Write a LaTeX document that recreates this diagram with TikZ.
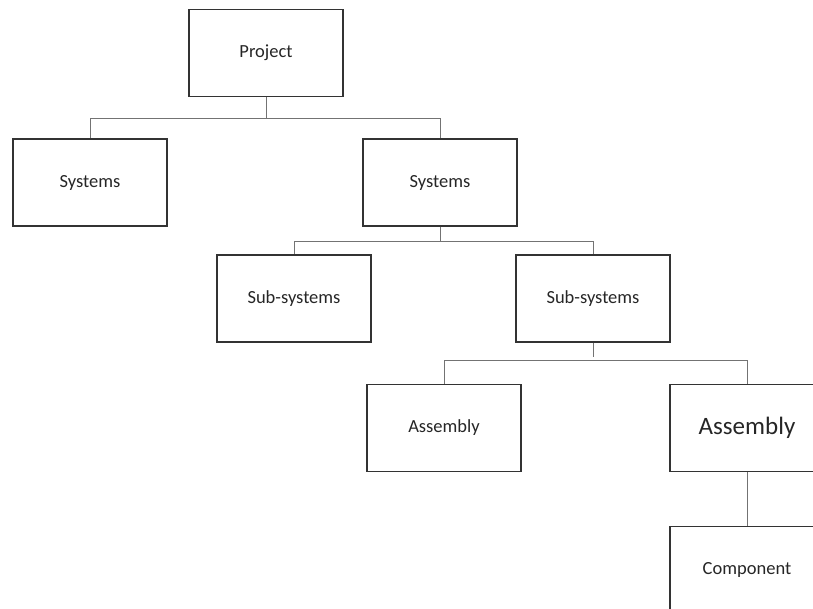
\documentclass[tikz,border=0pt]{standalone}
\usepackage{fontspec}
\setmainfont{Carlito}
\begin{document}
\begin{tikzpicture}[x=1pt,y=-1pt,
  box/.style={draw=black!80, line width=1.3pt, minimum width=154pt, minimum height=87pt, inner sep=0pt, font=\fontsize{18.5}{22}\selectfont, text=black!85},
  conn/.style={draw=black!55, line width=0.9pt}]
\useasboundingbox (0,0) rectangle (813,608);
\clip (0,0) rectangle (813,608);
\node[box] (project) at (266,53) {Project};
\node[box] (sysL) at (90,182.5) {Systems};
\node[box] (sysR) at (440,182.5) {Systems};
\node[box] (subL) at (294,298.5) {Sub-systems};
\node[box] (subR) at (593,298.5) {Sub-systems};
\node[box] (asmL) at (444,428) {Assembly};
\node[box, font=\fontsize{25}{30}\selectfont] (asmR) at (747,428) {Assembly};
\node[box] (comp) at (747,570) {Component};
\coordinate (j1) at (266,118);
\coordinate (j2) at (440,241);
\coordinate (j3) at (593,360);
\draw[conn] (project.south) -- (j1);
\draw[conn] (j1) -| (sysL.north);
\draw[conn] (j1) -| (sysR.north);
\draw[conn] (sysR.south) -- (j2);
\draw[conn] (j2) -| (subL.north);
\draw[conn] (j2) -| (subR.north);
\draw[conn] (subR.south) -- ([yshift=3pt]j3);
\draw[conn] (j3) -| (asmL.north);
\draw[conn] (j3) -| (asmR.north);
\draw[conn] (asmR.south) -- (comp.north);
\end{tikzpicture}
\end{document}
